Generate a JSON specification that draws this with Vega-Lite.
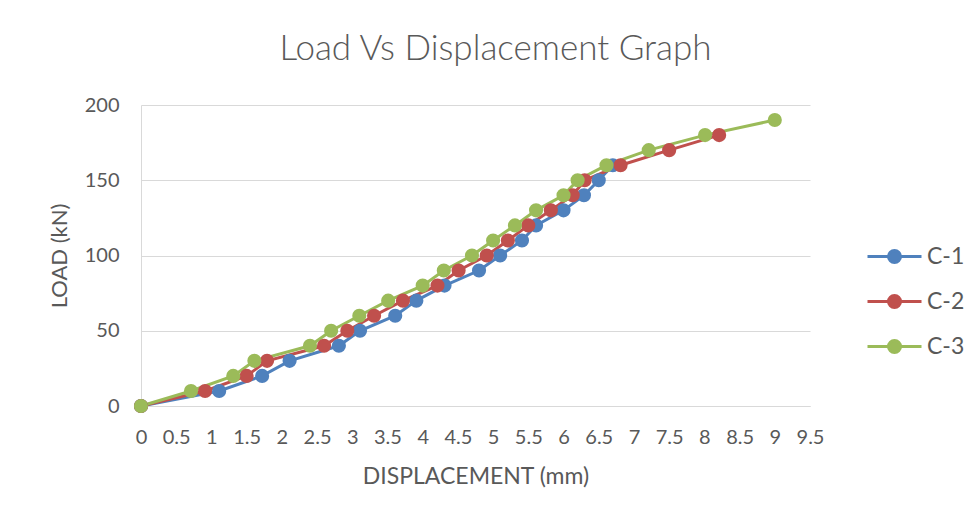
{
  "$schema": "https://vega.github.io/schema/vega-lite/v6.json",
  "width": 669,
  "height": 301,
  "autosize": {"type": "none"},
  "padding": {"left": 141, "top": 105, "right": 160, "bottom": 114},
  "background": "white",
  "title": {
    "text": "Load Vs Displacement Graph",
    "anchor": "middle",
    "dx": 20,
    "offset": 28,
    "font": "Lato",
    "fontSize": 35,
    "fontWeight": 300,
    "color": "#595959"
  },
  "data": {
    "values": [
      {"series": "C-1", "disp": 0, "load": 0},
      {"series": "C-1", "disp": 1.11, "load": 10},
      {"series": "C-1", "disp": 1.72, "load": 20},
      {"series": "C-1", "disp": 2.11, "load": 30},
      {"series": "C-1", "disp": 2.81, "load": 40},
      {"series": "C-1", "disp": 3.11, "load": 50},
      {"series": "C-1", "disp": 3.61, "load": 60},
      {"series": "C-1", "disp": 3.91, "load": 70},
      {"series": "C-1", "disp": 4.31, "load": 80},
      {"series": "C-1", "disp": 4.8, "load": 90},
      {"series": "C-1", "disp": 5.1, "load": 100},
      {"series": "C-1", "disp": 5.41, "load": 110},
      {"series": "C-1", "disp": 5.61, "load": 120},
      {"series": "C-1", "disp": 6.0, "load": 130},
      {"series": "C-1", "disp": 6.29, "load": 140},
      {"series": "C-1", "disp": 6.5, "load": 150},
      {"series": "C-1", "disp": 6.7, "load": 160},
      {"series": "C-2", "disp": 0, "load": 0},
      {"series": "C-2", "disp": 0.91, "load": 10},
      {"series": "C-2", "disp": 1.5, "load": 20},
      {"series": "C-2", "disp": 1.79, "load": 30},
      {"series": "C-2", "disp": 2.6, "load": 40},
      {"series": "C-2", "disp": 2.93, "load": 50},
      {"series": "C-2", "disp": 3.31, "load": 60},
      {"series": "C-2", "disp": 3.72, "load": 70},
      {"series": "C-2", "disp": 4.21, "load": 80},
      {"series": "C-2", "disp": 4.51, "load": 90},
      {"series": "C-2", "disp": 4.91, "load": 100},
      {"series": "C-2", "disp": 5.21, "load": 110},
      {"series": "C-2", "disp": 5.5, "load": 120},
      {"series": "C-2", "disp": 5.82, "load": 130},
      {"series": "C-2", "disp": 6.13, "load": 140},
      {"series": "C-2", "disp": 6.3, "load": 150},
      {"series": "C-2", "disp": 6.81, "load": 160},
      {"series": "C-2", "disp": 7.5, "load": 170},
      {"series": "C-2", "disp": 8.21, "load": 180},
      {"series": "C-3", "disp": 0, "load": 0},
      {"series": "C-3", "disp": 0.71, "load": 10},
      {"series": "C-3", "disp": 1.31, "load": 20},
      {"series": "C-3", "disp": 1.61, "load": 30},
      {"series": "C-3", "disp": 2.4, "load": 40},
      {"series": "C-3", "disp": 2.7, "load": 50},
      {"series": "C-3", "disp": 3.1, "load": 60},
      {"series": "C-3", "disp": 3.51, "load": 70},
      {"series": "C-3", "disp": 4.0, "load": 80},
      {"series": "C-3", "disp": 4.3, "load": 90},
      {"series": "C-3", "disp": 4.7, "load": 100},
      {"series": "C-3", "disp": 5.0, "load": 110},
      {"series": "C-3", "disp": 5.31, "load": 120},
      {"series": "C-3", "disp": 5.61, "load": 130},
      {"series": "C-3", "disp": 6.0, "load": 140},
      {"series": "C-3", "disp": 6.2, "load": 150},
      {"series": "C-3", "disp": 6.61, "load": 160},
      {"series": "C-3", "disp": 7.21, "load": 170},
      {"series": "C-3", "disp": 8.01, "load": 180},
      {"series": "C-3", "disp": 9.0, "load": 190}
    ]
  },
  "encoding": {
    "x": {
      "field": "disp",
      "type": "quantitative",
      "title": "DISPLACEMENT (mm)",
      "scale": {"domain": [0, 9.5], "nice": false, "zero": true},
      "axis": {
        "values": [0, 0.5, 1, 1.5, 2, 2.5, 3, 3.5, 4, 4.5, 5, 5.5, 6, 6.5, 7, 7.5, 8, 8.5, 9, 9.5],
        "format": "~g",
        "grid": false,
        "ticks": false,
        "domainColor": "#D9D9D9",
        "domainWidth": 1,
        "labelPadding": 21,
        "labelFlush": false,
        "labelFont": "Lato",
        "labelFontSize": 20,
        "labelColor": "#595959",
        "titleFont": "Lato",
        "titleFontSize": 23,
        "titleFontWeight": "normal",
        "titleColor": "#595959",
        "titlePadding": 18,
        "labelOverlap": false
      }
    },
    "y": {
      "field": "load",
      "type": "quantitative",
      "title": "LOAD (kN)",
      "scale": {"domain": [0, 200], "nice": false},
      "axis": {
        "values": [0, 50, 100, 150, 200],
        "grid": true,
        "gridColor": "#D9D9D9",
        "gridWidth": 1,
        "ticks": false,
        "domainColor": "#D9D9D9",
        "domainWidth": 1,
        "labelPadding": 22,
        "labelFont": "Lato",
        "labelFontSize": 20,
        "labelColor": "#595959",
        "titleFont": "Lato",
        "titleFontSize": 22,
        "titleFontWeight": "normal",
        "titleColor": "#595959",
        "titlePadding": 13
      }
    },
    "color": {
      "field": "series",
      "type": "nominal",
      "title": null,
      "scale": {"domain": ["C-1", "C-2", "C-3"], "range": ["#4F81BD", "#C0504D", "#9BBB59"]},
      "legend": {
        "orient": "none",
        "legendX": 742,
        "legendY": 140,
        "padding": 0,
        "symbolType": "M-3,0H3M-0.67,0A0.67,0.67 0 1,1 0.67,0A0.67,0.67 0 1,1 -0.67,0Z",
        "symbolSize": 324,
        "symbolStrokeWidth": 3,
        "rowPadding": 20,
        "labelOffset": 21,
        "labelFont": "Lato",
        "labelFontSize": 23,
        "labelColor": "#595959",
        "encode": {
          "symbols": {
            "update": {
              "fill": {"scale": "color", "field": "value"},
              "stroke": {"scale": "color", "field": "value"},
              "opacity": {"value": 1}
            }
          }
        }
      }
    }
  },
  "layer": [
    {"mark": {"type": "line", "strokeWidth": 3}, "encoding": {"order": {"field": "load", "type": "quantitative"}}},
    {"mark": {"type": "point", "filled": true, "size": 200, "opacity": 1, "shape": "circle"}}
  ],
  "config": {
    "view": {"stroke": null}
  }
}
